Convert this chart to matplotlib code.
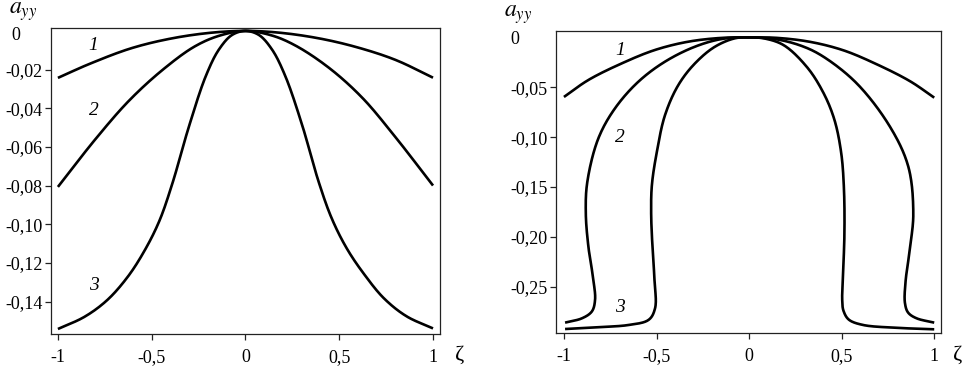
import numpy as np
import matplotlib
matplotlib.use("Agg")
import matplotlib.pyplot as plt

plt.rcParams['font.family'] = ['Liberation Serif', 'DejaVu Serif']
plt.rcParams['mathtext.fontset'] = 'stix'

# ---------------- data ----------------
# Left panel
L_xticks = [-1, -0.5, 0, 0.5, 1]
L_xticklabels = ["-1", "-0,5", "0", "0,5", "1"]
L_yticks = [0, -0.02, -0.04, -0.06, -0.08, -0.10, -0.12, -0.14]
L_yticklabels = ["", "-0,02", "-0,04", "-0,06", "-0,08", "-0,10", "-0,12", "-0,14"]

L1_x = [-1, -0.83, -0.61, -0.40, -0.19, 0, 0.19, 0.40, 0.60, 0.80, 1]
L1_y = [-0.0243, -0.0170, -0.0090, -0.0040, -0.0010, 0, -0.0010, -0.0040, -0.0086, -0.0150, -0.0242]

L2_x = [-1, -0.80, -0.62, -0.44, -0.27, -0.14, 0, 0.142, 0.267, 0.444, 0.622, 0.80, 1]
L2_y = [-0.0807, -0.0560, -0.0360, -0.0200, -0.0080, -0.0025, 0, -0.0024, -0.0076, -0.0190, -0.0345, -0.0550, -0.0800]

L3_x = [-1, -0.86, -0.74, -0.63, -0.54, -0.46, -0.39, -0.30, -0.21, -0.14, -0.07, 0,
        0.07, 0.14, 0.21, 0.30, 0.39, 0.46, 0.54, 0.63, 0.74, 0.86, 1]
L3_y = [-0.1542, -0.1480, -0.1395, -0.1275, -0.1140, -0.0985, -0.0790, -0.0490, -0.0230, -0.0094, -0.0020, 0,
        -0.0020, -0.0094, -0.0228, -0.0480, -0.0780, -0.0970, -0.1125, -0.1255, -0.1385, -0.1477, -0.1539]

# Right panel
R_xticks = [-1, -0.5, 0, 0.5, 1]
R_xticklabels = ["-1", "-0,5", "0", "0,5", "1"]
R_yticks = [0, -0.05, -0.10, -0.15, -0.20, -0.25]
R_yticklabels = ["", "-0,05", "-0,10", "-0,15", "-0,20", "-0,25"]

R1_x = [-1, -0.868, -0.687, -0.508, -0.328, -0.147, 0, 0.15, 0.33, 0.51, 0.69, 0.87, 1]
R1_y = [-0.0597, -0.0427, -0.0260, -0.0126, -0.0043, -0.0005, 0, -0.0005, -0.0045, -0.0130, -0.0270, -0.0440, -0.0604]

R2_x = [-0.994, -0.903, -0.850, -0.832, -0.841, -0.868, -0.882, -0.874, -0.814, -0.724, -0.598, -0.454, -0.292, -0.147, 0,
        0.15, 0.29, 0.401, 0.581, 0.761, 0.860, 0.887, 0.870, 0.845, 0.842, 0.860, 0.905, 1.0]
R2_y = [-0.2858, -0.2815, -0.2748, -0.2631, -0.2431, -0.2097, -0.1763, -0.1450, -0.1011, -0.0710, -0.0444, -0.0243, -0.0093, -0.0016, 0,
        -0.0020, -0.0090, -0.0193, -0.0460, -0.0895, -0.1295, -0.1763, -0.2100, -0.2450, -0.2664, -0.2760, -0.2815, -0.2858]

R3_x = [-0.994, -0.832, -0.652, -0.544, -0.508, -0.511, -0.522, -0.529, -0.525, -0.498, -0.454, -0.382, -0.292, -0.184, -0.076, 0,
        0.08, 0.185, 0.311, 0.400, 0.460, 0.497, 0.512, 0.515, 0.507, 0.503, 0.510, 0.540, 0.617, 0.80, 1.0]
R3_y = [-0.2922, -0.2905, -0.2882, -0.2832, -0.2715, -0.2431, -0.2097, -0.1763, -0.1479, -0.1145, -0.0778, -0.0477, -0.0260, -0.0093, -0.0009, 0,
        -0.0010, -0.0076, -0.0294, -0.0550, -0.0820, -0.1150, -0.1500, -0.1960, -0.2400, -0.2630, -0.2740, -0.2830, -0.2882, -0.2910, -0.2925]

curve_labels = ["1", "2", "3"]
L_label_pos = [(-0.81, -0.0075), (-0.81, -0.0412), (-0.81, -0.1315)]
R_label_pos = [(-0.697, -0.0130), (-0.697, -0.1000), (-0.697, -0.2705)]
zero_label = "0"


def smooth(xs, ys, xr, yr, n=24):
    """Centripetal Catmull-Rom through the read points (normalised space)."""
    P = np.column_stack([np.asarray(xs, float) / xr, np.asarray(ys, float) / yr])
    P = np.vstack([2 * P[0] - P[1], P, 2 * P[-1] - P[-2]])
    out = []
    for i in range(1, len(P) - 2):
        p0, p1, p2, p3 = P[i - 1], P[i], P[i + 1], P[i + 2]
        t0 = 0.0
        t1 = t0 + max(np.linalg.norm(p1 - p0), 1e-9) ** 0.5
        t2 = t1 + max(np.linalg.norm(p2 - p1), 1e-9) ** 0.5
        t3 = t2 + max(np.linalg.norm(p3 - p2), 1e-9) ** 0.5
        t = np.linspace(t1, t2, n)[:, None]
        A1 = (t1 - t) / (t1 - t0) * p0 + (t - t0) / (t1 - t0) * p1
        A2 = (t2 - t) / (t2 - t1) * p1 + (t - t1) / (t2 - t1) * p2
        A3 = (t3 - t) / (t3 - t2) * p2 + (t - t2) / (t3 - t2) * p3
        B1 = (t2 - t) / (t2 - t0) * A1 + (t - t0) / (t2 - t0) * A2
        B2 = (t3 - t) / (t3 - t1) * A2 + (t - t1) / (t3 - t1) * A3
        C = (t2 - t) / (t2 - t1) * B1 + (t - t1) / (t2 - t1) * B2
        out.append(C if i == 1 else C[1:])
    C = np.vstack(out)
    return C[:, 0] * xr, C[:, 1] * yr


fig = plt.figure(figsize=(9.71, 3.71), dpi=100)
axL = fig.add_axes([0.0525, 0.0997, 0.4006, 0.8248])
axR = fig.add_axes([0.5726, 0.1016, 0.3962, 0.8157])


def style(ax, xlim, ylim, xt, xtl, yt, ytl):
    ax.set_xlim(*xlim)
    ax.set_ylim(*ylim)
    ax.set_xticks(xt)
    ax.set_xticklabels(xtl)
    ax.set_yticks(yt)
    ax.set_yticklabels(ytl)
    ax.tick_params(axis='both', direction='out', length=4.5, width=0.9,
                   labelsize=13, color='#222222')
    ax.tick_params(axis='y', pad=1.5)
    ax.tick_params(axis='x', pad=6)
    for s in ax.spines.values():
        s.set_linewidth(0.9)
        s.set_color('#222222')
    # no tick mark at zero on the y axis
    ax.yaxis.get_major_ticks()[0].tick1line.set_visible(False)


style(axL, (-1.037, 1.037), (-0.1568, 0.0015), L_xticks, L_xticklabels, L_yticks, L_yticklabels)
style(axR, (-1.043, 1.035), (-0.2965, 0.0067), R_xticks, R_xticklabels, R_yticks, R_yticklabels)

for xs, ys in [(L1_x, L1_y), (L2_x, L2_y), (L3_x, L3_y)]:
    sx, sy = smooth(xs, ys, 2.0, 0.157)
    axL.plot(sx, sy, color='black', lw=1.9, solid_capstyle='butt')
for xs, ys in [(R1_x, R1_y), (R2_x, R2_y), (R3_x, R3_y)]:
    sx, sy = smooth(xs, ys, 2.0, 0.30)
    axR.plot(sx, sy, color='black', lw=1.9, solid_capstyle='butt')

for lab, (x, y) in zip(curve_labels, L_label_pos):
    axL.text(x, y, lab, fontsize=14, style='italic', ha='center', va='center')
for lab, (x, y) in zip(curve_labels, R_label_pos):
    axR.text(x, y, lab, fontsize=14, style='italic', ha='center', va='center')

# zero labels of the y axes (sit apart from the other tick labels)
fig.text(16 / 971, 1 - 36 / 371, zero_label, fontsize=13, ha='center', va='center')
fig.text(515 / 971, 1 - 39 / 371, zero_label, fontsize=13, ha='center', va='center')

# axis titles
fig.text(23 / 971, 1 - 12 / 371, r'$a_{yy}$', fontsize=17, ha='center', va='center')
fig.text(518 / 971, 1 - 15 / 371, r'$a_{yy}$', fontsize=17, ha='center', va='center')
fig.text(460 / 971, 1 - 355 / 371, 'ζ', fontsize=16, ha='center', va='center')
fig.text(958 / 971, 1 - 355 / 371, 'ζ', fontsize=16, ha='center', va='center')

fig.savefig('out.png', dpi=100)
